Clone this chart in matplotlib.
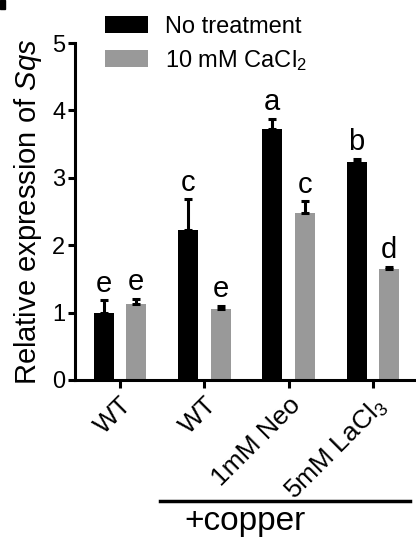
import numpy as np
import matplotlib.pyplot as plt
from matplotlib.patches import Rectangle
import matplotlib.transforms as mtransforms

plt.rcParams['font.family'] = ['Liberation Sans', 'DejaVu Sans']
plt.rcParams['mathtext.fontset'] = 'custom'
plt.rcParams['mathtext.rm'] = 'Liberation Sans'
plt.rcParams['mathtext.it'] = 'Liberation Sans:italic'

groups = ['WT', 'WT', '1mM Neo', '5mM LaCl$_3$']
no_treatment = [1.00, 2.22, 3.72, 3.23]
no_treatment_err = [0.18, 0.46, 0.16, 0.05]
cacl2 = [1.13, 1.05, 2.48, 1.64]
cacl2_err = [0.07, 0.05, 0.17, 0.04]
letters_nt = ['e', 'c', 'a', 'b']
letters_ca = ['e', 'e', 'c', 'd']

fig = plt.figure(figsize=(4.16, 5.40), dpi=100)
ax = fig.add_axes([0.180, 0.2963, 0.82, 0.624])

x = np.arange(len(groups))
w = 0.237
off = 0.193

bars1 = ax.bar(x - off, no_treatment, w, color='black', label='No treatment')
bars2 = ax.bar(x + off, cacl2, w, color='#999999', label='10 mM CaCl$_2$')
err_kw = dict(fmt='none', ecolor='black', elinewidth=2.2, capsize=3, capthick=2.2)
ax.errorbar(x - off, no_treatment, yerr=[np.zeros(4), no_treatment_err], **err_kw)
ax.errorbar(x + off, cacl2, yerr=[np.zeros(4), cacl2_err], **err_kw)

for xi, v, e, s in zip(x - off, no_treatment, no_treatment_err, letters_nt):
    ax.annotate(s, (xi, v + e), xytext=(0, 2), textcoords='offset points',
                ha='center', va='bottom', fontsize=21)
for xi, v, e, s in zip(x + off, cacl2, cacl2_err, letters_ca):
    ax.annotate(s, (xi, v + e), xytext=(0, 2), textcoords='offset points',
                ha='center', va='bottom', fontsize=21)

ax.set_xlim(-0.534, 3.51)
ax.set_ylim(0, 5)
ax.set_yticks([0, 1, 2, 3, 4, 5])
ax.set_xticks(x)
ax.set_xticklabels(groups, rotation=45, ha='right', rotation_mode='anchor', fontsize=19)
ax.tick_params(axis='y', labelsize=17, width=2.2, length=5, pad=2)
ax.tick_params(axis='x', width=2.2, length=6, pad=3)
for side in ['top', 'right']:
    ax.spines[side].set_visible(False)
for side in ['left', 'bottom']:
    ax.spines[side].set_linewidth(2.2)
ax.set_ylabel('Relative expression of $Sqs$', fontsize=21, labelpad=6)

# bracket for the copper treated samples
trans = mtransforms.blended_transform_factory(ax.transData, ax.transAxes)
ax.plot([0.47, 3.44], [-0.359, -0.359], color='black', lw=2.5, transform=trans, clip_on=False)
ax.text(1.48, -0.375, '+copper', transform=trans, ha='center', va='top', fontsize=24)

ax.legend(handles=[bars1, bars2], loc='upper left', bbox_to_anchor=(105 / 416, 1 - 16 / 540),
          bbox_transform=fig.transFigure, frameon=False, fontsize=17,
          handlelength=1.8, handleheight=0.7, handletextpad=0.75, labelspacing=0.42,
          borderpad=0, borderaxespad=0)

# corner of the panel letter
fig.patches.append(Rectangle((0, 1 - 9 / 540), 5 / 416, 9 / 540, transform=fig.transFigure,
                             color='black'))

fig.savefig('out.png', dpi=100)
